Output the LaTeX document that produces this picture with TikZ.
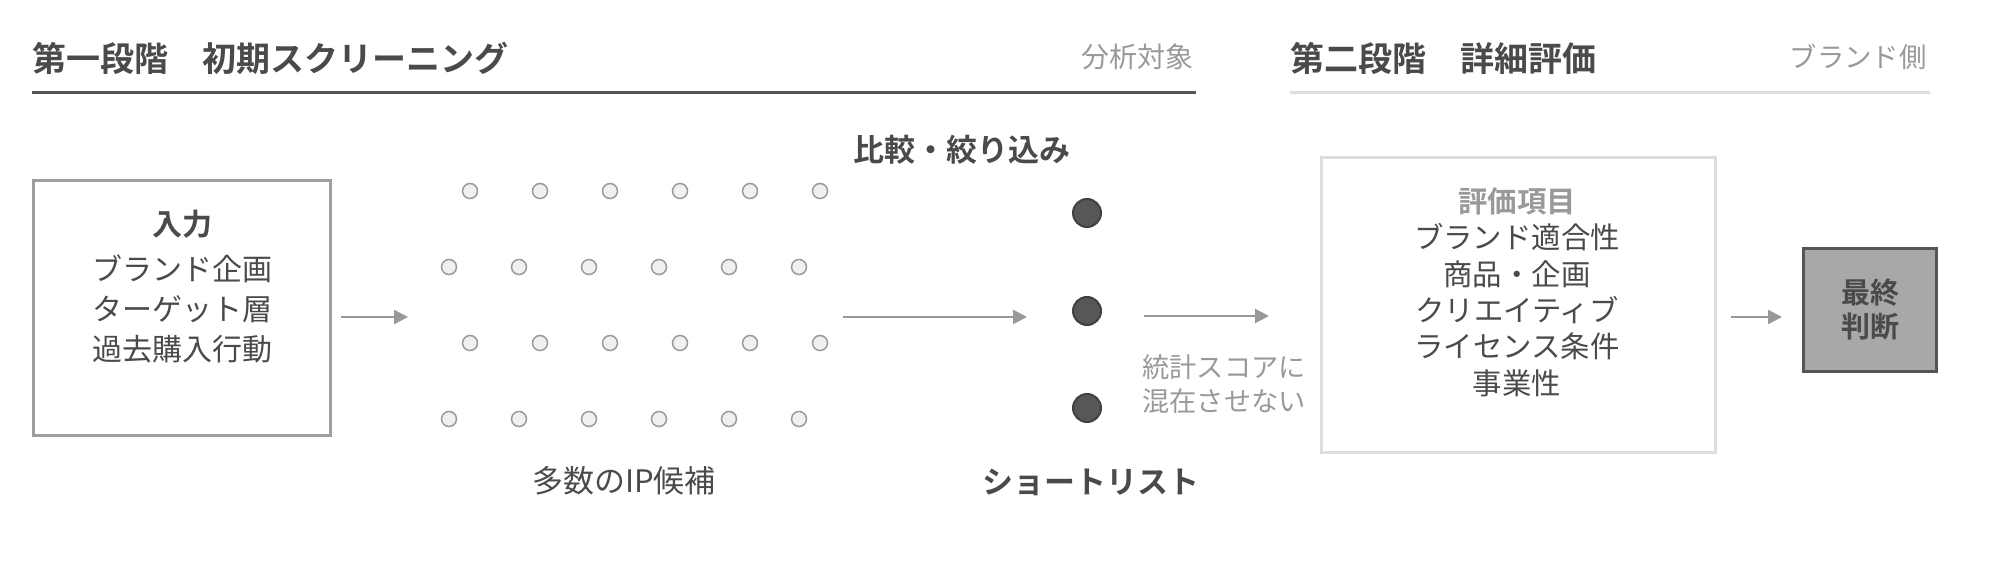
\documentclass[tikz,border=0pt]{standalone}
\usepackage{fontspec}
\setmainfont{Noto Sans CJK JP}[BoldFont={Noto Sans CJK JP Bold}]
\usetikzlibrary{arrows.meta}
\definecolor{inkdark}{HTML}{4A4A4A}
\definecolor{inkgray}{HTML}{999999}
\definecolor{boxline}{HTML}{9E9E9E}
\definecolor{paleline}{HTML}{DDDDDD}
\definecolor{arrowgray}{HTML}{999999}
\definecolor{dotfill}{HTML}{F0F0F0}
\definecolor{dotline}{HTML}{9A9A9A}
\definecolor{shortfill}{HTML}{575757}
\definecolor{shortline}{HTML}{404040}
\definecolor{finalfill}{HTML}{A8A8A8}
\definecolor{finalline}{HTML}{555555}
\tikzset{
  ipdot/.style={circle, draw=dotline, fill=dotfill, line width=0.75pt, minimum size=7.5pt, inner sep=0pt},
  shortdot/.style={circle, draw=shortline, fill=shortfill, line width=1pt, minimum size=14pt, inner sep=0pt},
  flowarrow/.style={draw=arrowgray, line width=1.25pt, -{Triangle[length=7pt,width=7pt]}},
  captext/.style={inner sep=0pt, text=inkdark},
}
\begin{document}
\begin{tikzpicture}[x=0.5pt, y=-0.5pt]
\useasboundingbox (0,0) rectangle (2000,572);
% headers
\node[captext, anchor=west, font=\bfseries\fontsize{17}{20}\selectfont] (headone) at (32,58) {第一段階　初期スクリーニング};
\node[captext, anchor=east, text=inkgray, font=\fontsize{14}{17}\selectfont] (subone) at (1194,57) {分析対象};
\draw[color=finalline, line width=1.5pt] (32,93) -- (1196,93);
\node[captext, anchor=west, font=\bfseries\fontsize{17}{20}\selectfont] (headtwo) at (1290,58) {第二段階　詳細評価};
\node[captext, anchor=east, text=inkgray, font=\fontsize{13.7}{17}\selectfont] (subtwo) at (1927,57) {ブランド側};
\draw[color=paleline, line width=1.5pt] (1290,93) -- (1930,93);
% input box
\node[draw=boxline, line width=1.5pt, minimum width=148.5pt, minimum height=127.5pt, inner sep=0pt] (input) at (182,308) {};
\node[captext, align=center, font=\fontsize{15}{20}\selectfont] (inputtext) at (182,286.5)
  {\textbf{入力}\\[2.5pt]ブランド企画\\ターゲット層\\過去購入行動};
% candidates
\foreach \r/\y/\x in {1/191/470, 2/267/449, 3/343/470, 4/419/449}
  \foreach \i in {0,...,5}
    \node[ipdot] (ip-\r-\i) at (\x+70*\i,\y) {};
\node[captext, font=\fontsize{15.5}{18}\selectfont] (iplabel) at (624,481) {多数のIP候補};
% shortlist
\node[shortdot] (short1) at (1087,213) {};
\node[shortdot] (short2) at (1087,311) {};
\node[shortdot] (short3) at (1087,408) {};
\node[captext, font=\bfseries\fontsize{15.5}{18}\selectfont] (narrow) at (962,150) {比較・絞り込み};
\node[captext, font=\bfseries\fontsize{15.5}{18}\selectfont] (shortlabel) at (1091,482) {ショートリスト};
\node[captext, anchor=west, align=left, text=inkgray, font=\fontsize{13.6}{17}\selectfont] (nomix) at (1142,384)
  {統計スコアに\\混在させない};
% evaluation box
\node[draw=paleline, line width=1.5pt, minimum width=197pt, minimum height=147.5pt, inner sep=0pt] (evalbox) at (1518,305) {};
\node[captext, align=center, font=\fontsize{14.7}{18.2}\selectfont] (evaltext) at (1517,292)
  {\textcolor{inkgray}{\textbf{評価項目}}\\ブランド適合性\\商品・企画\\クリエイティブ\\ライセンス条件\\事業性};
% final decision
\node[draw=finalline, fill=finalfill, line width=1.5pt, minimum width=66.5pt, minimum height=61.5pt, inner sep=0pt] (final) at (1870,310) {};
\node[captext, align=center, font=\bfseries\fontsize{14.5}{17}\selectfont] (finaltext) at (1870,310) {最終\\判断};
% arrows
\coordinate (arone) at (408,317);
\coordinate (artwos) at (843,317);
\coordinate (artwoe) at (1027,317);
\coordinate (arthree) at (1269,316);
\coordinate (arfour) at (1782,317);
\draw[flowarrow] ([xshift=4.5pt]input.east |- arone) -- (arone);
\draw[flowarrow] (artwos) -- (artwoe);
\draw[flowarrow] ([xshift=21pt]short2.east |- arthree) -- (arthree);
\draw[flowarrow] ([xshift=7pt]evalbox.east |- arfour) -- (arfour);
\end{tikzpicture}
\end{document}
